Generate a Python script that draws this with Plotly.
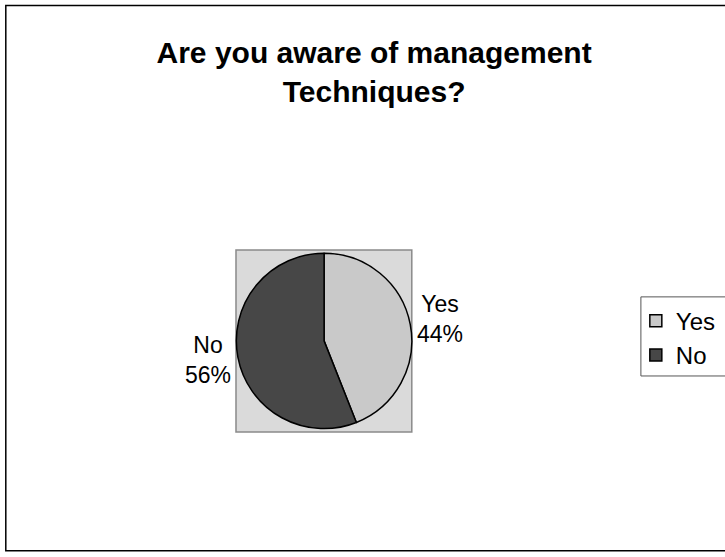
import plotly.graph_objects as go

# Are you aware of management techniques? - anket sonucu
cevaplar = ["Yes", "No"]
yuzdeler = [44, 56]
renkler = ["#c9c9c9", "#474747"]
baslik = "Are you aware of management<br>Techniques?"
# etiketlerin yerleri (paper koordinatlari)
etiket_x = [0.607, 0.287]
etiket_y = [0.427, 0.354]

fig = go.Figure()
fig.add_trace(go.Pie(
    labels=cevaplar, values=yuzdeler, sort=False, direction="clockwise", rotation=0,
    marker=dict(colors=renkler, line=dict(color="black", width=1.5)),
    textinfo="none", hoverinfo="label+percent",
    domain=dict(x=[0.326, 0.568], y=[0.227, 0.549]),
))

for cevap, yuzde, ex, ey in zip(cevaplar, yuzdeler, etiket_x, etiket_y):
    fig.add_annotation(text=f"{cevap}<br>{yuzde}%", x=ex, y=ey, xref="paper", yref="paper",
                       xanchor="center", yanchor="middle", showarrow=False, align="center",
                       font=dict(family="Liberation Sans, Arial", size=23, color="black"))

# gri cizim alani, dis cerceve ve lejant kutusu
fig.add_shape(type="rect", xref="paper", yref="paper", x0=0.3255, x1=0.568, y0=0.2244, y1=0.551,
              fillcolor="#dadada", line=dict(color="#8a8a8a", width=1.5), layer="below")
fig.add_shape(type="rect", xref="paper", yref="paper", x0=0.008, x1=1.01, y0=0.011, y1=0.99,
              line=dict(color="black", width=1.5), layer="below")
fig.add_shape(type="rect", xref="paper", yref="paper", x0=0.884, x1=1.01, y0=0.325, y1=0.467,
              line=dict(color="#555555", width=1), layer="below")

fig.update_layout(
    width=725, height=557, margin=dict(l=0, r=0, t=0, b=0, autoexpand=False),
    paper_bgcolor="white", plot_bgcolor="white",
    title=dict(text=baslik, x=0.516, xanchor="center", y=0.886, yanchor="top",
               font=dict(family="Liberation Sans, Arial", size=30, color="black", weight="bold")),
    legend=dict(x=0.877, y=0.393, xanchor="left", yanchor="middle",
                borderwidth=0, bgcolor="rgba(0,0,0,0)",
                font=dict(family="Liberation Sans, Arial", size=24, color="black")),
)
fig.write_html("out.html", config={"displayModeBar": False},
               post_script="document.body.style.margin='0';")
